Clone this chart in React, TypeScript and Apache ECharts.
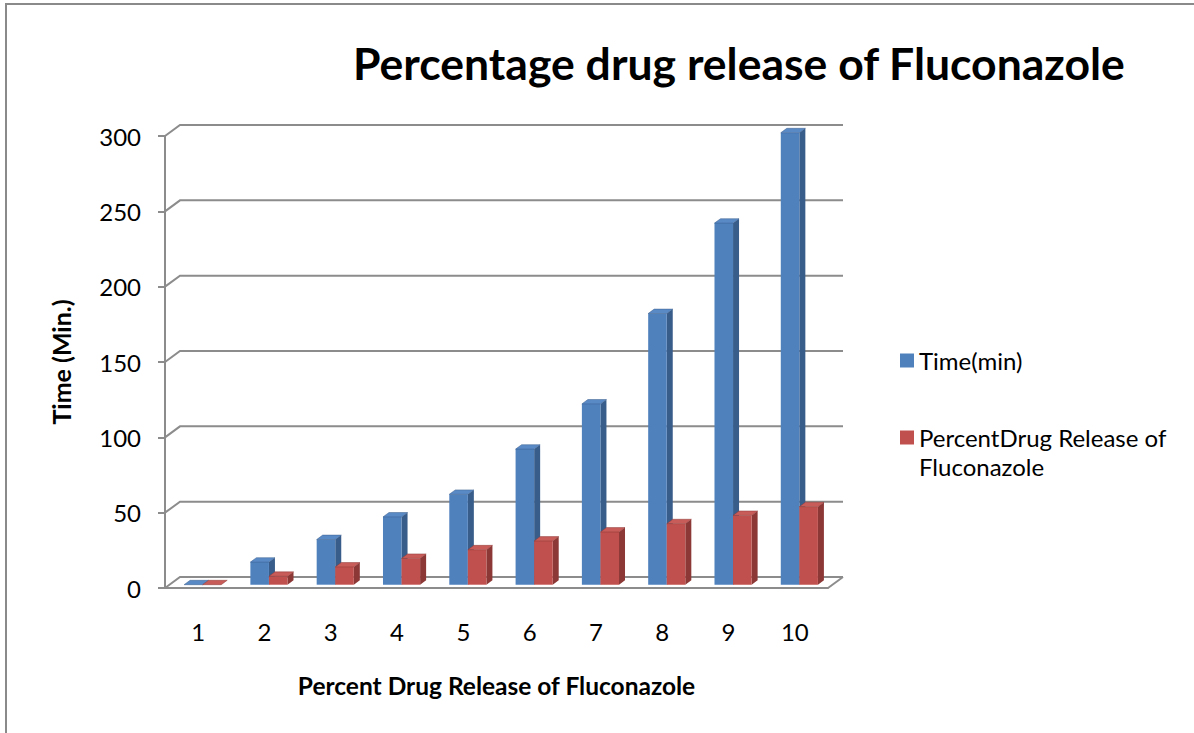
import React, { useEffect, useRef } from "react";
import * as echarts from "echarts";

const categories = ["1", "2", "3", "4", "5", "6", "7", "8", "9", "10"];
const timeMin = [0, 15, 30, 45, 60, 90, 120, 180, 240, 300];
const percentRelease = [0, 5.6, 11.8, 17.5, 23.2, 29.0, 35.0, 40.5, 46.0, 51.8];
const yTicks = [0, 50, 100, 150, 200, 250, 300];
const seriesNames = ["Time(min)", "PercentDrug Release of Fluconazole"];
const titleText = "Percentage drug release of Fluconazole";
const xAxisTitle = "Percent Drug Release of Fluconazole";
const yAxisTitle = "Time (Min.)";

const FONT = "Lato, 'Open Sans', sans-serif";
const GRID = "#8c8c8c";
const DX = 15;
const DY = -11;
const Z0 = 0.3;
const Z1 = 0.7;
const BAR = 0.28;

const palettes = [
  { front: "#4F81BD", side: "#385D8A", top: "#5A8AC6" },
  { front: "#C0504D", side: "#8C3836", top: "#C85C59" },
];

function barRenderer(side: number) {
  const colors = palettes[side];
  return (params: any, api: any) => {
    const idx = api.value(0);
    const val = api.value(1);
    const base = api.coord([idx, 0]);
    const top = api.coord([idx, val]);
    const bw = api.size([1, 0])[0] * BAR;
    const ox = Z0 * DX;
    const oy = Z0 * DY;
    const x0 = base[0] + ox + (side === 0 ? -bw : 0);
    const x1 = x0 + bw;
    const yb = base[1] + oy;
    const yt = top[1] + oy;
    const dx = (Z1 - Z0) * DX;
    const dy = (Z1 - Z0) * DY;
    return {
      type: "group",
      children: [
        {
          type: "polygon",
          shape: { points: [[x1, yt], [x1 + dx, yt + dy], [x1 + dx, yb + dy], [x1, yb]] },
          style: { fill: colors.side },
        },
        {
          type: "rect",
          shape: { x: x0, y: yt, width: bw, height: Math.max(yb - yt, 0) },
          style: { fill: colors.front },
        },
        {
          type: "polygon",
          shape: { points: [[x0, yt], [x1, yt], [x1 + dx, yt + dy], [x0 + dx, yt + dy]] },
          style: { fill: colors.top, stroke: colors.side, lineWidth: 0.5 },
        },
      ],
    };
  };
}

export default function App() {
  const ref = useRef<HTMLDivElement>(null);
  useEffect(() => {
    if (!ref.current) return;
    const chart = echarts.init(ref.current, undefined, { renderer: "svg" });
    chart.setOption({
      animation: false,
      backgroundColor: "#ffffff",
      textStyle: { fontFamily: FONT },
      title: {
        text: titleText,
        left: 348,
        top: 35,
        textStyle: { fontFamily: FONT, fontSize: 44.5, fontWeight: "bold", color: "#000" },
      },
      graphic: [
        {
          type: "rect",
          shape: { x: 6, y: 4, width: 1300, height: 900 },
          style: { fill: "none", stroke: "#8a8a8a", lineWidth: 2 },
          silent: true,
        },
      ],
      legend: {
        orient: "vertical",
        left: 895,
        top: 341,
        itemWidth: 14,
        itemHeight: 14,
        itemGap: 19,
        icon: "rect",
        textStyle: { fontFamily: FONT, fontSize: 24, lineHeight: 29, color: "#000" },
        formatter: (name: string) =>
          name === seriesNames[1] ? "\nPercentDrug Release of\nFluconazole" : name,
        data: [{ name: seriesNames[0] }, { name: seriesNames[1] }],
      },
      grid: { left: 165, right: 366, top: 136, bottom: 145 },
      xAxis: {
        type: "category",
        data: categories,
        boundaryGap: true,
        axisLine: { show: true, lineStyle: { color: GRID, width: 2 } },
        axisTick: { show: false },
        axisLabel: { fontFamily: FONT, fontSize: 24, color: "#000", margin: 31 },
        name: xAxisTitle,
        nameLocation: "middle",
        nameGap: 85,
        nameTextStyle: { fontFamily: FONT, fontSize: 24.5, fontWeight: "bold", color: "#000" },
      },
      yAxis: {
        type: "value",
        min: 0,
        max: 300,
        interval: 50,
        axisLine: { show: true, lineStyle: { color: GRID, width: 2 } },
        axisTick: { show: true, length: 7, lineStyle: { color: GRID, width: 2 } },
        splitLine: { show: false },
        axisLabel: { fontFamily: FONT, fontSize: 24, color: "#000", margin: 24 },
        name: yAxisTitle,
        nameLocation: "middle",
        nameGap: 92,
        nameTextStyle: { fontFamily: FONT, fontSize: 25, fontWeight: "bold", color: "#000" },
      },
      series: [
        {
          type: "custom",
          name: "wall",
          silent: true,
          z: 1,
          data: yTicks.map((v) => [0, v]),
          encode: { x: 0, y: 1 },
          renderItem: (params: any, api: any) => {
            const cs = params.coordSys;
            const v = api.value(1);
            const y = api.coord([0, v])[1];
            const left = cs.x;
            const right = cs.x + cs.width;
            const children: any[] = [
              {
                type: "polyline",
                shape: { points: [[left, y], [left + DX, y + DY], [right + DX, y + DY]] },
                style: { stroke: GRID, lineWidth: 2, fill: null },
              },
            ];
            if (v === 0) {
              children.push({
                type: "line",
                shape: { x1: right, y1: y, x2: right + DX, y2: y + DY },
                style: { stroke: GRID, lineWidth: 2 },
              });
            }
            return { type: "group", children };
          },
        },
        {
          type: "custom",
          name: seriesNames[0],
          z: 2,
          itemStyle: { color: palettes[0].front },
          data: categories.map((_, i) => [i, timeMin[i]]),
          encode: { x: 0, y: 1 },
          renderItem: barRenderer(0),
        },
        {
          type: "custom",
          name: seriesNames[1],
          z: 3,
          itemStyle: { color: palettes[1].front },
          data: categories.map((_, i) => [i, percentRelease[i]]),
          encode: { x: 0, y: 1 },
          renderItem: barRenderer(1),
        },
      ],
    });
    return () => chart.dispose();
  }, []);
  return (
    <div
      ref={ref}
      style={{ position: "absolute", left: 0, top: 0, width: 1194, height: 733 }}
    />
  );
}
